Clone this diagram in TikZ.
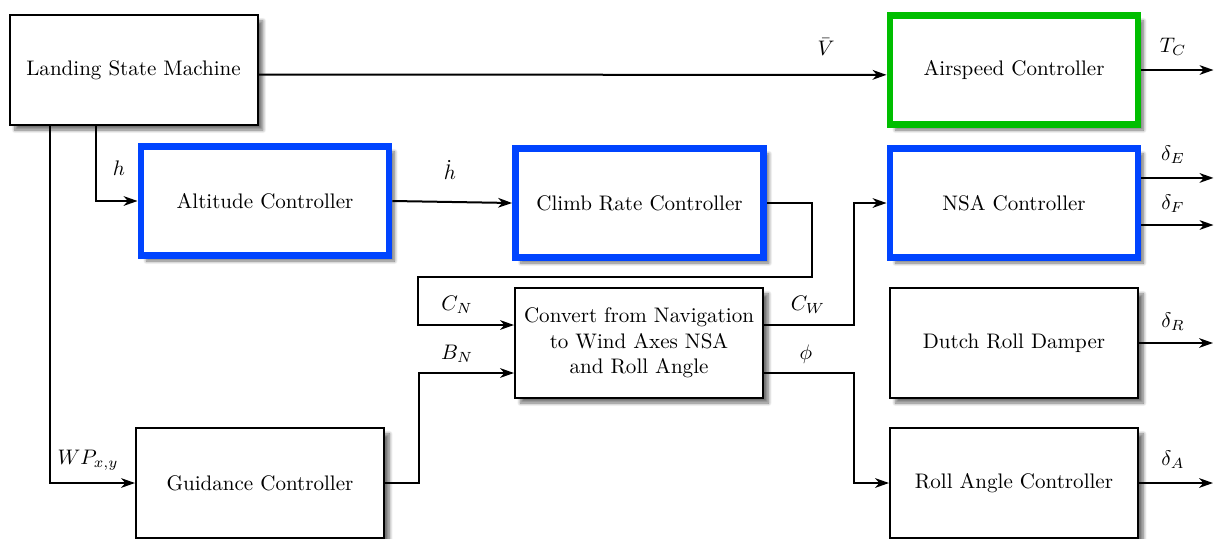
\documentclass[tikz,border=0pt]{standalone}
\usetikzlibrary{arrows.meta,shadows,shadows.blur,calc}
\definecolor{ctlblue}{RGB}{0,68,255}
\definecolor{ctlgreen}{RGB}{0,190,0}
\tikzset{
  blk/.style={draw=black, line width=0.95pt, fill=white, minimum width=117.8pt, minimum height=51.8pt,
    align=center, inner sep=0pt,
    blur shadow={shadow xshift=2.6pt, shadow yshift=-2.6pt, shadow blur radius=1.6pt, shadow blur steps=8, shadow opacity=55}},
  blueblk/.style={blk, draw=ctlblue, line width=3.3pt},
  greenblk/.style={blk, draw=ctlgreen, line width=3.3pt},
  conn/.style={line width=0.95pt, -{Stealth[length=6.6pt,width=4.6pt,inset=2pt]}},
  lbl/.style={inner sep=0pt}
}
\begin{document}
\begin{tikzpicture}[x=0.475pt,y=-0.475pt]
\useasboundingbox (0,0) rectangle (1216,538);
\clip (0,0) rectangle (1216,538);
% boxes
\node[blk] (LSM) at (133.5,70) {Landing State Machine};
\node[greenblk] (Air) at (1014,70) {Airspeed Controller};
\node[blueblk] (Alt) at (265,201) {Altitude Controller};
\node[blueblk] (Climb) at (639.5,203) {Climb Rate Controller};
\node[blueblk] (NSA) at (1014,203) {NSA Controller};
\node[blk] (Conv) at (639,343) {Convert from Navigation\\to Wind Axes NSA\\and Roll Angle};
\node[blk] (Dutch) at (1014,343) {Dutch Roll Damper};
\node[blk] (Guid) at (260,483) {Guidance Controller};
\node[blk] (Roll) at (1014,483) {Roll Angle Controller};
% helper coordinates
\coordinate (k1) at (812,277);
\coordinate (k2) at (418,277);
% connectors
\draw[conn] ([yshift=-2.2pt]LSM.east) -- ([yshift=-2.3pt]Air.west);
\draw[conn] (Air.east) -- ++(72,0);
\draw[conn] ([xshift=-17.8pt]LSM.south) |- (Alt.west);
\draw[conn] ([xshift=-39.7pt]LSM.south) |- (Guid.west);
\draw[conn] (Alt.east) -- (Climb.west);
\draw[conn] (Climb.east) -| (k1) -- (k2) |- ([yshift=8.55pt]Conv.west);
\draw[conn] (Guid.east) -- ++(34,0) |- ([yshift=-14.25pt]Conv.west);
\draw[conn] ([yshift=8.55pt]Conv.east) -- ++(90,0) |- (NSA.west);
\draw[conn] ([yshift=-14.25pt]Conv.east) -- ++(90,0) |- (Roll.west);
\draw[conn] ([yshift=11.9pt]NSA.east) -- ++(72,0);
\draw[conn] ([yshift=-10.45pt]NSA.east) -- ++(72,0);
\draw[conn] (Dutch.east) -- ++(74,0);
\draw[conn] (Roll.east) -- ++(74,0);
% labels
\node[lbl] (lV) at (826,47) {$\bar{V}$};
\node[lbl] (lTC) at (1173,47) {$T_C$};
\node[lbl] (lh) at (119,168) {$h$};
\node[lbl] (lWP) at (88,460) {$WP_{x,y}$};
\node[lbl] (lhd) at (450,170) {$\dot{h}$};
\node[lbl] (lCN) at (457,305) {$C_N$};
\node[lbl] (lBN) at (457,354) {$B_N$};
\node[lbl] (lCW) at (808,305) {$C_W$};
\node[lbl] (lphi) at (806,354) {$\phi$};
\node[lbl] (ldE) at (1173,155) {$\delta_E$};
\node[lbl] (ldF) at (1173,204) {$\delta_F$};
\node[lbl] (ldR) at (1173,322) {$\delta_R$};
\node[lbl] (ldA) at (1173,460) {$\delta_A$};
\end{tikzpicture}
\end{document}
